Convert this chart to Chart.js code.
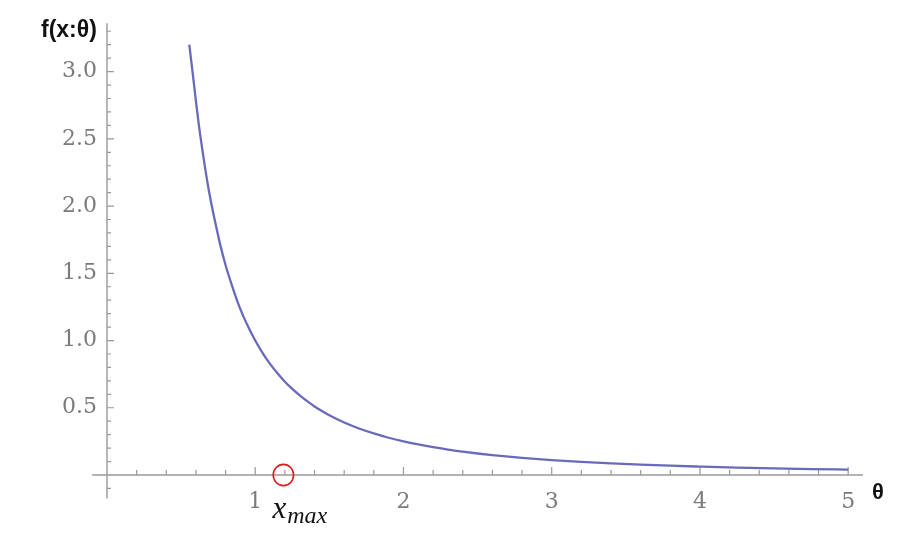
<!DOCTYPE html>
<html>
<head>
<meta charset="utf-8">
<script src="https://cdn.jsdelivr.net/npm/chart.js@4/dist/chart.umd.min.js"></script>
<style>
  html, body { margin: 0; padding: 0; background: #ffffff; }
  #wrap { width: 918px; height: 546px; }
</style>
</head>
<body>
<div id="wrap"><canvas id="c" width="918" height="546"></canvas></div>
<script>
// ---- data ----
const thetaValues   = [0.555, 0.58, 0.6, 0.62, 0.65, 0.68, 0.7, 0.73, 0.76, 0.8, 0.84, 0.88, 0.92, 0.96, 1.0, 1.05, 1.1, 1.15, 1.2, 1.25, 1.3, 1.35, 1.4, 1.45, 1.5, 1.6, 1.7, 1.8, 1.9, 2.0, 2.1, 2.2, 2.3, 2.4, 2.5, 2.6, 2.8, 3.0, 3.2, 3.4, 3.6, 3.8, 4.0, 4.25, 4.5, 4.75, 5.0];
const densityValues = [3.2, 2.97, 2.78, 2.6, 2.37, 2.16, 2.04, 1.88, 1.73, 1.56, 1.42, 1.29, 1.18, 1.085, 1.0, 0.907, 0.826, 0.756, 0.694, 0.64, 0.592, 0.549, 0.51, 0.476, 0.444, 0.39, 0.346, 0.309, 0.277, 0.25, 0.227, 0.207, 0.189, 0.174, 0.16, 0.148, 0.128, 0.111, 0.098, 0.087, 0.077, 0.069, 0.0625, 0.055, 0.049, 0.044, 0.04];
const xTickLabels = [1, 2, 3, 4, 5];
const yTickLabels = [0.5, 1.0, 1.5, 2.0, 2.5, 3.0];
const xMaxValue = 1.19;
const yAxisTitle = 'f(x:θ)';
const xAxisTitle = 'θ';

const points = thetaValues.map((t, i) => ({ x: t, y: densityValues[i] }));

const AXIS_COLOR = '#9a9a9a';
const TICK_FONT = { family: 'DejaVu Serif', size: 22 };

const decorPlugin = {
  id: 'decor',
  beforeDatasetsDraw(chart) {
    const ctx = chart.ctx;
    const xs = chart.scales.x, ys = chart.scales.y;
    const x0 = xs.getPixelForValue(0);
    const y0 = ys.getPixelForValue(0);
    ctx.save();
    ctx.strokeStyle = AXIS_COLOR;
    ctx.lineWidth = 1.4;
    // axes
    ctx.beginPath();
    ctx.moveTo(xs.getPixelForValue(-0.1), y0); ctx.lineTo(xs.right, y0);
    ctx.moveTo(x0, ys.top); ctx.lineTo(x0, ys.getPixelForValue(-0.175));
    ctx.stroke();
    // y ticks (pointing right)
    ctx.lineWidth = 1.2;
    ctx.beginPath();
    for (let k = -1; k <= 33; k++) {
      if (k === 0) continue;
      const v = k / 10;
      const py = ys.getPixelForValue(v);
      const len = (k % 5 === 0) ? 7 : 4;
      ctx.moveTo(x0, py); ctx.lineTo(x0 + len, py);
    }
    // x ticks (pointing up)
    for (let k = 1; k <= 25; k++) {
      const v = k / 5;
      const px = xs.getPixelForValue(v);
      const len = (k % 5 === 0) ? 8 : 5;
      ctx.moveTo(px, y0); ctx.lineTo(px, y0 - len);
    }
    ctx.stroke();
    ctx.restore();
  },
  afterDraw(chart) {
    const ctx = chart.ctx;
    const xs = chart.scales.x, ys = chart.scales.y;
    const y0 = ys.getPixelForValue(0);
    ctx.save();
    // red circle at x_max
    const cx = xs.getPixelForValue(xMaxValue);
    ctx.strokeStyle = '#e3161b';
    ctx.lineWidth = 1.6;
    ctx.beginPath();
    ctx.ellipse(cx, y0, 10.2, 10.6, 0, 0, Math.PI * 2);
    ctx.stroke();
    // x_max label
    ctx.fillStyle = '#111111';
    ctx.textBaseline = 'alphabetic';
    ctx.textAlign = 'left';
    ctx.font = 'italic 31px "Liberation Serif"';
    const lx = cx - 11;
    ctx.fillText('x', lx, y0 + 43);
    const w = ctx.measureText('x').width;
    ctx.font = 'italic 24px "Liberation Serif"';
    ctx.fillText('max', lx + w + 1, y0 + 48);
    // axis titles
    ctx.fillStyle = '#111111';
    ctx.font = 'bold 23px "Liberation Sans"';
    ctx.textBaseline = 'middle';
    ctx.textAlign = 'left';
    ctx.fillText(yAxisTitle, 41, 31);
    ctx.font = 'bold 22px "Liberation Sans"';
    ctx.fillText(xAxisTitle, xs.right + 9, y0 + 18);
    ctx.restore();
  }
};

new Chart(document.getElementById('c'), {
  type: 'scatter',
  data: {
    datasets: [{
      data: points,
      showLine: true,
      borderColor: '#6a6abc',
      borderWidth: 2.3,
      pointRadius: 0,
      cubicInterpolationMode: 'monotone',
      fill: false
    }]
  },
  options: {
    responsive: false,
    animation: false,
    layout: { padding: { left: 0, right: 55, top: 21, bottom: 0 } },
    plugins: { legend: { display: false }, tooltip: { enabled: false }, title: { display: false } },
    scales: {
      x: {
        type: 'linear',
        min: 0, max: 5.1,
        position: 'bottom',
        afterFit: (s) => { s.height = 71; },
        grid: { display: false, drawTicks: false },
        border: { display: false },
        ticks: {
          includeBounds: false,
          stepSize: 1,
          autoSkip: false,
          maxRotation: 0,
          padding: 14,
          color: '#7b7b7b',
          font: TICK_FONT,
          callback: (v) => xTickLabels.includes(v) ? String(v) : ''
        }
      },
      y: {
        type: 'linear',
        min: 0, max: 3.36,
        position: 'left',
        afterFit: (s) => { s.width = 107; },
        grid: { display: false, drawTicks: false },
        border: { display: false },
        ticks: {
          includeBounds: false,
          stepSize: 0.5,
          autoSkip: false,
          padding: 10,
          color: '#7b7b7b',
          font: TICK_FONT,
          callback: (v) => yTickLabels.some(t => Math.abs(t - v) < 1e-9) ? v.toFixed(1) : ''
        }
      }
    }
  },
  plugins: [decorPlugin]
});
</script>
</body>
</html>
